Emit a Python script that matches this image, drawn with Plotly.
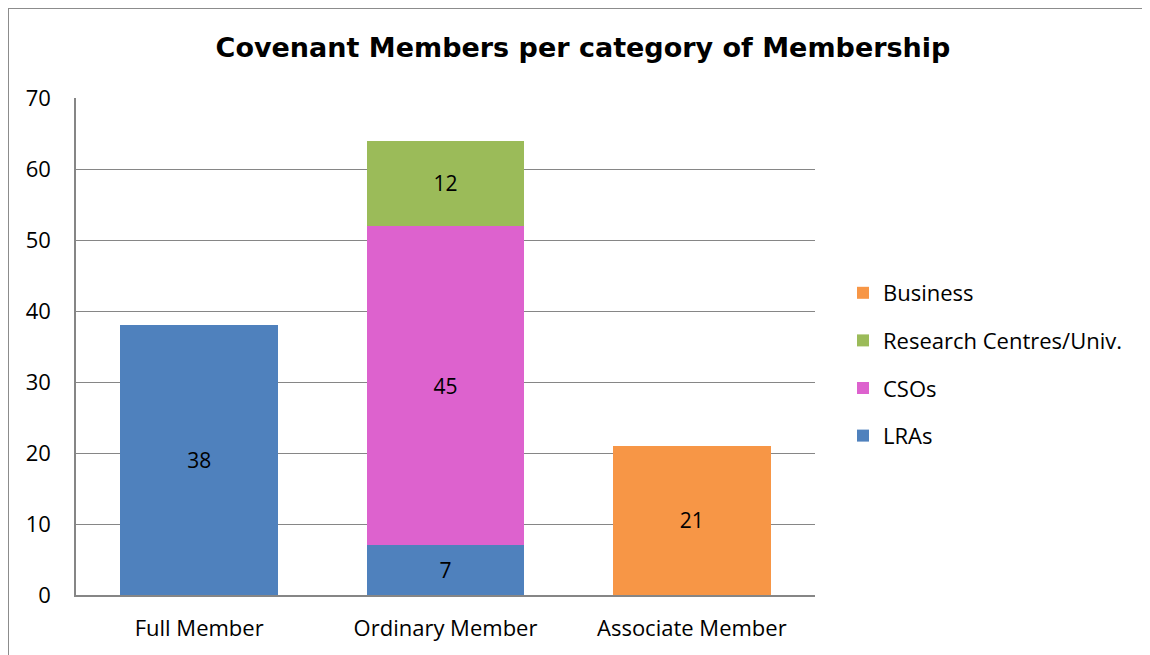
import plotly.graph_objects as go

categories = ["Full Member", "Ordinary Member", "Associate Member"]
lras = [38, 7, None]
csos = [None, 45, None]
research = [None, 12, None]
business = [None, None, 21]

series = [
    ("LRAs", lras, "#4F81BD", 4),
    ("CSOs", csos, "#DD62CE", 3),
    ("Research Centres/Univ.", research, "#9BBB59", 2),
    ("Business", business, "#F79646", 1),
]

OFF = 8  # page body margin
W, H = 1150, 655
# desired page-pixel plot area
X0, X1, Y0, Y1 = 76, 815, 98, 595
L, T = X0 - OFF, Y0 - OFF
R, B = W - (X1 - OFF), H - (Y1 - OFF)
pw, ph = X1 - X0, Y1 - Y0

def px(x):
    return (x - X0) / pw

def py(y):
    return (Y1 - y) / ph

FONT = "Open Sans"
FS = 22
fig = go.Figure()
for name, vals, color, rank in series:
    fig.add_trace(go.Bar(
        x=categories, y=vals, name=name, legendgroup=name, legendrank=rank,
        marker=dict(color=color, line=dict(width=0)),
        texttemplate="%{y}", textposition="inside", insidetextanchor="middle",
        textfont=dict(color="black", size=21, family=FONT),
        textangle=0,
    ))

fig.update_layout(
    width=W, height=H,
    barmode="stack", bargap=0.36,
    margin=dict(l=L, r=R, t=T, b=B, pad=0),
    paper_bgcolor="white", plot_bgcolor="white",
    title=dict(text="<b>Covenant Members per category of Membership</b>",
               font=dict(family="DejaVu Sans", size=27, color="black"),
               x=(583 - OFF) / W, xanchor="center", xref="container",
               y=1 - (48 - OFF) / H, yanchor="middle", yref="container"),
    font=dict(family=FONT, size=FS, color="black"),
    yaxis=dict(range=[0, 70], dtick=10, showgrid=True, gridcolor="#868686", gridwidth=1,
               showline=True, linecolor="#868686", linewidth=1.5, zeroline=False,
               ticks="", tickfont=dict(family=FONT, size=FS), ticklabelstandoff=19),
    xaxis=dict(showline=True, linecolor="#868686", linewidth=1.5, ticks="",
               tickfont=dict(family=FONT, size=FS), ticklabelstandoff=13),
    legend=dict(x=px(843), xanchor="left", y=py(272), yanchor="top",
                traceorder="grouped", tracegroupgap=16,
                font=dict(family=FONT, size=FS), itemwidth=30),
    showlegend=True,
    shapes=[dict(type="path", xref="paper", yref="paper",
                 path=f"M {px(8)},{py(670)} L {px(8)},{py(8)} L {px(1170)},{py(8)}",
                 line=dict(color="#8c8c8c", width=2))],
)

fig.write_html("out.html")
